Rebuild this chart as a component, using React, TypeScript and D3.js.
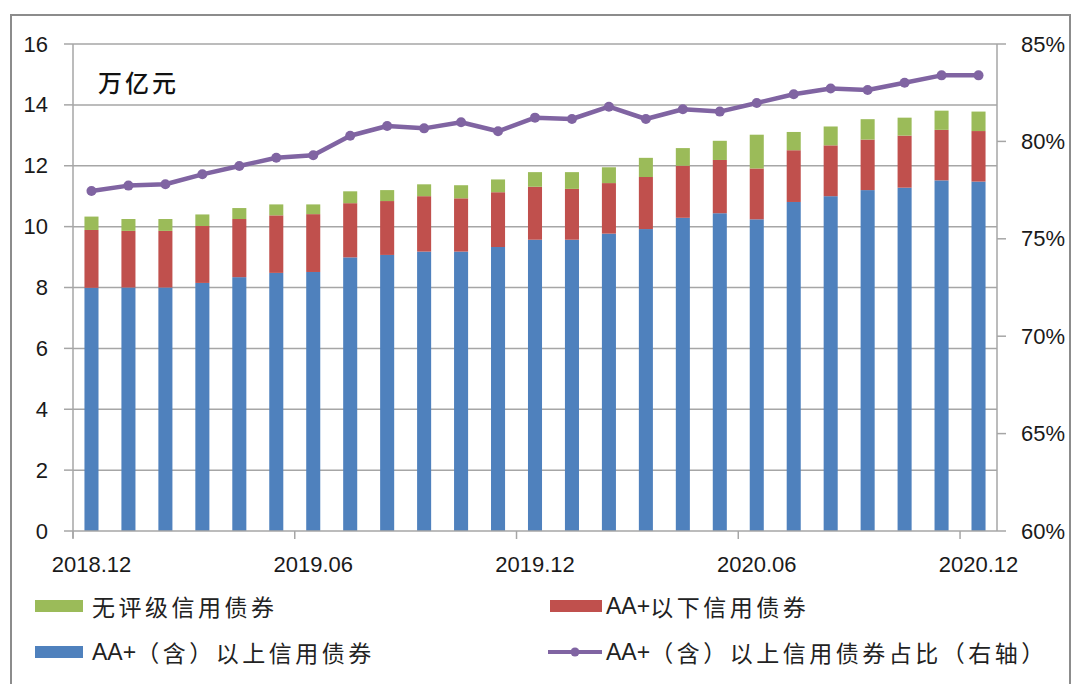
import React from "react";
import * as d3 from "d3";

const months = [
  "2018.12", "2019.01", "2019.02", "2019.03", "2019.04", "2019.05", "2019.06",
  "2019.07", "2019.08", "2019.09", "2019.10", "2019.11", "2019.12",
  "2020.01", "2020.02", "2020.03", "2020.04", "2020.05", "2020.06",
  "2020.07", "2020.08", "2020.09", "2020.10", "2020.11", "2020.12",
];
const tickMonths = ["2018.12", "2019.06", "2019.12", "2020.06", "2020.12"];

// 万亿元
const aaPlusAbove = [7.99, 8.0, 8.0, 8.15, 8.34, 8.48, 8.51, 8.99, 9.07, 9.18, 9.18, 9.33, 9.57, 9.57, 9.77, 9.92, 10.29, 10.44, 10.24, 10.81, 11.0, 11.2, 11.28, 11.52, 11.48];
const belowAAPlus = [1.9, 1.86, 1.86, 1.87, 1.91, 1.89, 1.9, 1.78, 1.77, 1.82, 1.75, 1.8, 1.74, 1.67, 1.66, 1.71, 1.71, 1.75, 1.67, 1.7, 1.67, 1.66, 1.71, 1.66, 1.66];
const unrated = [0.44, 0.39, 0.39, 0.38, 0.36, 0.36, 0.32, 0.39, 0.36, 0.39, 0.43, 0.42, 0.48, 0.55, 0.52, 0.63, 0.58, 0.63, 1.11, 0.6, 0.62, 0.67, 0.59, 0.63, 0.64];
// %
const aaPlusShare = [77.45, 77.73, 77.8, 78.31, 78.74, 79.16, 79.29, 80.29, 80.79, 80.67, 80.98, 80.52, 81.22, 81.15, 81.78, 81.15, 81.65, 81.53, 81.97, 82.42, 82.72, 82.64, 83.01, 83.39, 83.39];

const leftTicks = [0, 2, 4, 6, 8, 10, 12, 14, 16];
const rightTicks = [60, 65, 70, 75, 80, 85];

const seriesNames = ["无评级信用债券", "AA+以下信用债券", "AA+（含）以上信用债券", "AA+（含）以上信用债券占比（右轴）"];

const C_BLUE = "#4F81BD";
const C_RED = "#C0504D";
const C_GREEN = "#9BBB59";
const C_PURPLE = "#8064A2";
const GRID = "#A6A6A6";

const W = 1071;
const H = 684;
const L = 73, R = 997, T = 44, B = 531;

const numFont = "'Liberation Sans', Arial, sans-serif";
const cjkFont = "'Noto Sans CJK SC', 'Liberation Sans', sans-serif";

function MixedText({ x, y, text }: { x: number; y: number; text: string }) {
  // group runs of ASCII vs CJK so only CJK glyphs are spaced out
  const runs: { s: string; ascii: boolean }[] = [];
  for (const ch of text) {
    const ascii = ch.charCodeAt(0) < 128;
    const last = runs[runs.length - 1];
    if (last && last.ascii === ascii) last.s += ch;
    else runs.push({ s: ch, ascii });
  }
  return (
    <text x={x} y={y} dominantBaseline="central" fontFamily={cjkFont} fontSize={23} fill="#222">
      {runs.map((r, i) => (
        <tspan key={i} letterSpacing={r.ascii ? 0 : 3.5} fontFamily={r.ascii ? numFont : cjkFont} fontSize={r.ascii ? 23 : 23}>{r.s}</tspan>
      ))}
    </text>
  );
}

export default function App() {
  const x = d3.scaleBand<string>().domain(months).range([L, R]).paddingInner(0.62).paddingOuter(0.31);
  const y = d3.scaleLinear().domain([0, 16]).range([B, T]);
  const y2 = d3.scaleLinear().domain([60, 85]).range([B, T]);
  const step = x.step();
  const bw = x.bandwidth();
  const cx = (m: string) => (x(m) as number) + bw / 2;

  const stackRows = months.map((m, i) => ({ m, blue: aaPlusAbove[i], red: belowAAPlus[i], green: unrated[i] }));
  const stack = d3.stack<any>().keys(["blue", "red", "green"])(stackRows);
  const colors: Record<string, string> = { blue: C_BLUE, red: C_RED, green: C_GREEN };

  const line = d3.line<number>().x((_, i) => cx(months[i])).y((v) => y2(v));

  const boundaryTicks = tickMonths.map((m) => (x(m) as number) + bw / 2 - step / 2);

  return (
    <svg width={W} height={H} style={{ position: "absolute", left: 0, top: 0, background: "#fff" }}>
      <rect x={11} y={15} width={1059} height={H + 10} fill="#fff" stroke="#8C8C8C" strokeWidth={2} />
      {leftTicks.filter((t) => t > 0).map((t) => (
        <line key={t} x1={L} x2={R} y1={y(t)} y2={y(t)} stroke={GRID} strokeWidth={1.5} />
      ))}
      <line x1={L} x2={L} y1={T} y2={B + 7} stroke={GRID} strokeWidth={1.5} />
      {leftTicks.map((t) => (
        <g key={t}>
          <line x1={L - 9} x2={L} y1={y(t)} y2={y(t)} stroke={GRID} strokeWidth={1.5} />
          <text x={48} y={y(t)} textAnchor="end" dominantBaseline="central" fontFamily={numFont} fontSize={22} fill="#1a1a1a">{t}</text>
        </g>
      ))}
      <line x1={R} x2={R} y1={T} y2={B} stroke={GRID} strokeWidth={1.5} />
      {rightTicks.map((t) => (
        <g key={t}>
          <line x1={R} x2={R + 9} y1={y2(t)} y2={y2(t)} stroke={GRID} strokeWidth={1.5} />
          <text x={1021} y={y2(t)} textAnchor="start" dominantBaseline="central" fontFamily={numFont} fontSize={22} fill="#1a1a1a">{t + "%"}</text>
        </g>
      ))}
      {stack.map((layer) => (
        <g key={layer.key} fill={colors[layer.key]}>
          {layer.map((d, i) => (
            <rect key={i} x={x(months[i])} y={y(d[1])} width={bw} height={y(d[0]) - y(d[1])} />
          ))}
        </g>
      ))}
      <line x1={L} x2={R} y1={B} y2={B} stroke={GRID} strokeWidth={1.5} />
      {boundaryTicks.map((bx, i) => (
        <line key={i} x1={bx} x2={bx} y1={B} y2={B + 8} stroke={GRID} strokeWidth={1.5} />
      ))}
      {tickMonths.map((m) => (
        <text key={m} x={cx(m)} y={564} textAnchor="middle" dominantBaseline="central" fontFamily={numFont} fontSize={22} fill="#1a1a1a">{m}</text>
      ))}
      <path d={line(aaPlusShare) as string} fill="none" stroke={C_PURPLE} strokeWidth={4.5} strokeLinejoin="round" />
      {aaPlusShare.map((v, i) => (
        <circle key={i} cx={cx(months[i])} cy={y2(v)} r={5} fill={C_PURPLE} />
      ))}
      <text x={98} y={81} dominantBaseline="central" fontFamily={cjkFont} fontSize={24} fontWeight={500} letterSpacing={3} fill="#111">万亿元</text>
      <rect x={35} y={600} width={48} height={12} fill={C_GREEN} />
      <MixedText x={92} y={606} text={seriesNames[0]} />
      <rect x={550} y={600} width={52} height={12} fill={C_RED} />
      <MixedText x={606} y={606} text={seriesNames[1]} />
      <rect x={35} y={646} width={48} height={12} fill={C_BLUE} />
      <MixedText x={92} y={652} text={seriesNames[2]} />
      <line x1={548} x2={602} y1={652} y2={652} stroke={C_PURPLE} strokeWidth={4} />
      <circle cx={575} cy={652} r={4.5} fill={C_PURPLE} />
      <MixedText x={606} y={652} text={seriesNames[3]} />
    </svg>
  );
}
